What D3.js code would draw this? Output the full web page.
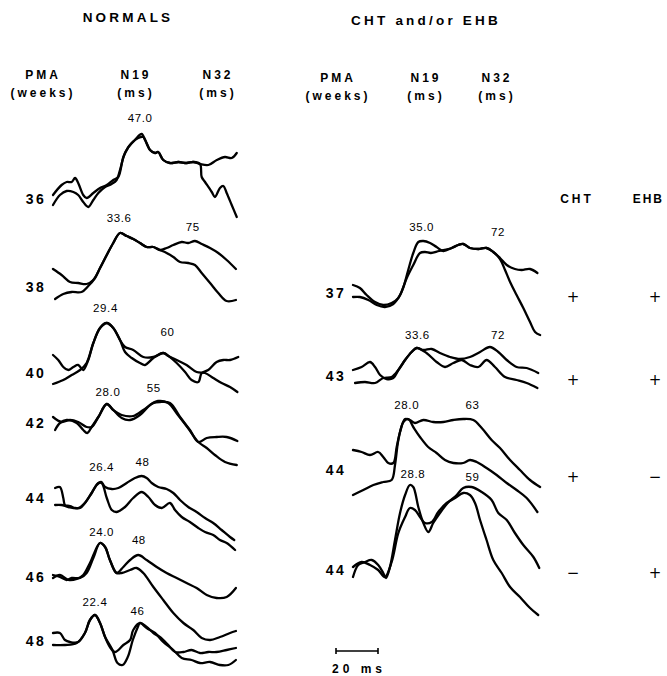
<!DOCTYPE html>
<html>
<head>
<meta charset="utf-8">
<script src="https://cdn.jsdelivr.net/npm/d3@7"></script>
<style>
  body { margin: 0; background: #fff; }
  svg { display: block; }
  .trace { fill: none; stroke: #000; stroke-width: 2.3; stroke-linejoin: round; stroke-linecap: round; }
  .title { font-family: "Liberation Sans", Arial, sans-serif; font-weight: bold; font-size: 13.5px; letter-spacing: 3.2px; }
  .head { font-family: "Liberation Sans", Arial, sans-serif; font-weight: bold; font-size: 12px; letter-spacing: 3px; }
  .rowlab { font-family: "Liberation Sans", Arial, sans-serif; font-weight: bold; font-size: 14px; letter-spacing: 2.5px; }
  .peak { font-family: "Liberation Sans", Arial, sans-serif; font-size: 11.5px; letter-spacing: 0.6px; }
  .sign { font-family: "DejaVu Sans", sans-serif; font-size: 15px; }
  .bar { font-family: "Liberation Sans", Arial, sans-serif; font-weight: bold; font-size: 12px; letter-spacing: 4px; }
</style>
</head>
<body>
<svg class="js-d3-container"></svg>
<script>
// ---- data: traces as [latency (ms), amplitude (arbitrary units)] ----
// NORMALS
const n36a = [[0,4],[4.1,14],[6.5,17],[8.9,17],[10.5,21],[12,16],[14.4,4],[16,1],[19.2,6],[22.4,11],[25.6,14],[28.7,19],[31.1,22],[33.5,42],[35.9,52],[39,59],[42.2,65],[43.8,59],[46.2,49],[48.6,46],[50.1,47],[52.5,39],[55.7,36],[59.7,37],[63.7,36],[66.8,37],[70,35],[74,34],[78,39],[81.9,42],[85.1,41],[87.5,46]];
const n36b = [[0,-6],[3.3,4],[6.5,8],[9.7,7],[12,4],[14.4,-3],[16.8,-8],[19.2,-1],[21.6,6],[24.8,12],[27.9,15],[30.3,19],[31.9,29],[34.3,46],[37.5,56],[40.6,61],[43,62],[44.6,56],[46.2,49],[48.6,46],[50.1,47],[52.5,39],[55.7,36],[59.7,37],[63.7,36],[66.8,37],[70,35],[70.8,22],[72.4,17],[75.6,7],[77.1,2],[79.5,11],[81.1,13],[82.7,6],[85.1,-6],[87.5,-18]];
const n38a = [[0,18],[4.1,12],[8.1,5],[12,4],[16,3],[19.2,7],[22.4,19],[25.6,32],[28.7,44],[31.9,54],[35.1,51],[38.2,48],[41.4,44],[44.6,40],[47.8,40],[50.9,37],[54.1,39],[57.3,42],[61.3,45],[64.4,44],[67.6,46],[70.8,43],[74.8,39],[78.7,34],[82.7,27],[87.1,18]];
const n38b = [[1,-12],[4.9,-7],[8.9,-5],[13.6,-5],[16.8,1],[20,9],[22.4,19],[25.6,32],[28.7,44],[31.9,54],[35.1,51],[38.2,48],[41.4,44],[44.6,40],[47.8,40],[50.9,37],[54.1,34],[57.3,30],[60.5,25],[64.4,24],[67.6,22],[70.8,14],[74.8,4],[78.7,-6],[82.7,-14],[87.1,-13]];
const n40a = [[0,18],[2.5,13],[4.9,6],[7.3,3],[9.7,6],[12,8],[14.4,3],[16.8,13],[19.2,30],[22.4,45],[25.6,50],[28.7,45],[31.9,33],[34.3,26],[38.2,23],[43,16],[47.8,16],[52.5,20],[55.7,16],[58.9,10],[62.9,1],[66,-7],[69.2,-9],[70.8,0],[73.9,3],[77.9,11],[81.1,13],[84.3,13],[88.2,16]];
const n40b = [[0,-11],[4.9,-7],[8.9,-2],[12.9,3],[16,10],[19.2,30],[22.4,45],[25.6,50],[28.7,45],[31.9,33],[34.3,21],[37.5,15],[41.4,10],[43.8,8],[47.8,15],[52.5,20],[54.9,17],[58.9,13],[63.6,8],[68.4,1],[72.4,0],[76.3,-5],[80.3,-10],[84.3,-14],[87.8,-19]];
const n42a = [[0,6],[4.1,1],[8.1,3],[12,1],[16,-4],[18.4,-4],[21.6,6],[25.6,19],[28.7,13],[32.7,8],[38.2,7],[43,13],[47.8,20],[50.9,21],[55.7,20],[60.5,6],[65.2,-7],[69.2,-19],[73.2,-15],[77.9,-14],[82.7,-14],[87.8,-18]];
const n42b = [[1,-7],[3.3,0],[6.5,3],[11.3,0],[14.4,-7],[16.3,-10],[18.4,-4],[21.6,6],[25.6,19],[28.7,13],[32.7,5],[36.7,3],[41.4,8],[46.2,18],[50,22],[54.8,20],[59.5,8],[64.3,-5],[69.2,-19],[73.2,-25],[77.1,-32],[81.9,-39],[87.5,-42]];
const n44a = [[1,10],[3.3,11],[4.9,0],[5.7,-7],[8.1,-8],[10.5,-10],[12.9,-10],[15.2,-5],[18.4,5],[20.8,13],[22.9,16],[24.8,11],[28,9],[31.1,10],[35.1,15],[39,20],[42.2,22],[44.6,20],[47,15],[50.1,11],[54.1,9],[57.3,5],[60.5,-2],[64.4,-9],[68.4,-14],[72.4,-20],[76.3,-25],[80.3,-32],[84.3,-39],[86.3,-42]];
const n44b = [[1,-7],[4.1,-7],[7.3,-9],[12,-10],[15.2,-5],[18.4,5],[21.6,15],[23.2,15],[25.6,0],[28,-12],[30.3,-14],[34.3,-9],[38.2,0],[42.2,6],[45.4,1],[48.6,-7],[51.8,-10],[55.7,-5],[58.1,-12],[61.3,-19],[65.2,-24],[69.2,-30],[72.4,-34],[76.3,-37],[79.5,-42],[82.7,-45],[86.7,-52]];
const n46a = [[0,2],[3.3,0],[6.5,-3],[8.9,-1],[12.9,-1],[16,4],[19.2,19],[22.4,34],[24.8,30],[27.1,17],[30.3,4],[33.5,10],[36.7,17],[40.6,22],[44.6,17],[49.4,10],[54.1,4],[58.9,-1],[63.6,-6],[68.4,-11],[73.2,-18],[77.9,-21],[82.7,-20],[87.1,-11]];
const n46b = [[0,-1],[3.3,2],[7.3,-3],[11.3,-2],[14.4,2],[17.6,14],[22.4,34],[24.8,30],[27.1,17],[30.3,4],[32.7,4],[36.7,7],[39.8,9],[43,4],[47.8,-10],[52.5,-23],[57.3,-36],[62.1,-46],[66.8,-53],[70.8,-61],[74.8,-63],[79.5,-60],[84.3,-56],[87.1,-54]];
const n48a = [[0,8],[3.3,8],[5.7,1],[8.1,-1],[12,-1],[15.2,8],[17.6,21],[20,26],[22.4,18],[24.8,4],[27.1,-6],[29.5,-11],[33.5,-4],[36.7,1],[38.2,11],[41.4,18],[44.6,14],[47.8,8],[50.9,4],[54.9,-4],[58.1,-11],[62.1,-11],[66,-9],[70,-12],[73.9,-11],[77.9,-11],[82.7,-9],[87.1,-7]];
const n48b = [[0,-4],[5.7,-4],[11.3,-2],[15.2,8],[17.6,21],[20,26],[22.4,18],[24.8,4],[28.3,-9],[30.7,-22],[33.1,-24],[35.6,-16],[38,1],[40.4,14],[41.4,18],[44.6,13],[48.6,8],[52.5,-1],[57.3,-9],[61.3,-17],[66,-19],[70,-22],[74.8,-21],[79.5,-24],[83.5,-24],[87.1,-19]];
// CHT and/or EHB
const c37a = [[0,8],[3.3,5],[6.5,-2],[10.5,-9],[14.4,-12],[18.4,-10],[21.6,-5],[24,6],[26.3,23],[28.7,40],[31.1,51],[33.5,52],[36.7,50],[39.8,46],[43,42],[47,45],[50.1,48],[52.5,49],[55.7,45],[59.7,44],[63.6,45],[66.8,41],[70,35],[73.2,28],[77.1,24],[80.3,23],[84.3,24],[87.8,20]];
const c37b = [[0,-4],[3.3,-4],[7.3,-7],[11.3,-12],[15.2,-14],[19.2,-11],[22.4,-2],[25.6,15],[28.7,28],[31.9,40],[34.3,41],[37.1,40],[41,42],[47,45],[50.1,48],[52.5,49],[55.7,45],[59.7,44],[63.6,45],[66.8,41],[70,34],[72.4,23],[74.8,11],[77.9,-2],[81.1,-15],[84.3,-29],[86.7,-39],[89.1,-42]];
const c43a = [[0,6],[4.1,9],[8.1,14],[10.5,9],[12.9,1],[16,-3],[19.2,-2],[21.6,6],[24.8,16],[27.9,24],[30.3,28],[33.5,26],[37.5,27],[41.4,23],[46.2,19],[50.9,17],[55.7,19],[60.5,24],[65.2,29],[69.2,24],[73.2,16],[77.9,9],[82.7,8],[88.2,3]];
const c43b = [[1,-7],[5.7,-6],[10.5,-7],[14.4,-2],[18.4,-1],[21.6,6],[24.8,16],[27.9,24],[30.3,28],[35,23],[39.8,14],[43.8,9],[47.8,13],[51.8,16],[55.7,11],[59.7,9],[63.6,16],[67.6,9],[72.4,-1],[77.9,-4],[82.7,-7],[87.8,-12]];
const c44a = [[0,20],[4.1,18],[8.1,15],[12,18],[14.4,13],[16.8,7],[19.2,7],[20.8,23],[22.4,38],[24.8,51],[27.1,50],[29.5,47],[33.5,50],[38.2,48],[43,48],[47.8,50],[52.5,51],[57.3,50],[61.3,42],[66,30],[70,22],[74.8,10],[79.5,0],[84.3,-10],[89.1,-17]];
const c44b = [[0,-25],[4.9,-20],[9.7,-15],[14.4,-12],[18.4,-10],[20,5],[21.6,30],[24,48],[26.3,51],[28.7,43],[31.9,33],[35.8,23],[39.8,17],[43.8,10],[47.8,7],[52.5,7],[55.7,10],[58.9,8],[63.6,2],[68.4,-5],[73.2,-13],[77.9,-20],[82.7,-28],[87.8,-42]];
const c44c = [[0,-7],[2.5,5],[5.7,8],[8.9,10],[12,5],[14.4,-3],[15.7,-8],[17.6,3],[20,30],[22.4,57],[24.8,75],[27.1,85],[28.7,83],[31.1,63],[33.5,47],[35.9,38],[38.2,47],[41.4,57],[45.1,67],[49.4,75],[52.5,82],[56.5,83],[61.3,78],[66,70],[69.2,57],[73.2,50],[77.1,37],[81.1,25],[85.9,13],[88.7,2]];
const c44d = [[0,3],[4.1,8],[8.1,5],[12,0],[15.2,-7],[18.4,8],[21.6,37],[24.8,53],[27.1,62],[29.5,60],[31.9,53],[34.3,47],[37.5,48],[40.6,58],[44.6,67],[48.6,72],[52.5,77],[55.7,75],[58.1,67],[60.5,50],[63.6,30],[66.8,10],[70.8,-3],[74.8,-17],[79.5,-27],[84.3,-38],[88.2,-45]];

const normalAges = ["36", "38", "40", "42", "44", "46", "48"];
const normalTraces = [[n36a, n36b], [n38a, n38b], [n40a, n40b], [n42a, n42b], [n44a, n44b], [n46a, n46b], [n48a, n48b]];
const normalN19 = ["47.0", "33.6", "29.4", "28.0", "26.4", "24.0", "22.4"];
const normalN32 = ["", "75", "60", "55", "48", "48", "46"];

const patientAges = ["37", "43", "44", "44"];
const patientTraces = [[c37a, c37b], [c43a, c43b], [c44a, c44b], [c44c, c44d]];
const patientN19 = ["35.0", "33.6", "28.0", "28.8"];
const patientN32 = ["72", "72", "63", "59"];
const chtSigns = ["+", "+", "+", "\u2212"];
const ehbSigns = ["+", "+", "\u2212", "+"];

const drawFigure = () => {
    const svgWidth = 667;
    const svgHeight = 676;

    const svg = d3.select('.js-d3-container')
        .attr('width', svgWidth)
        .attr('height', svgHeight);

    // time scales (2.1 px per ms, same as the 20 ms bar)
    const xLeft = d3.scaleLinear().domain([0, 88]).range([53, 53 + 88 * 2.1]);
    const xRight = d3.scaleLinear().domain([0, 89]).range([353, 353 + 89 * 2.1]);

    // baseline of each row (row label centre)
    const leftBase = [199, 287, 373, 423, 498, 577, 641];
    const rightBase = [293, 376, 470, 570];

    // label positions for peak numbers (x in ms, y offset from baseline)
    const leftN19Pos = [[41.5, -81], [31.5, -69], [25, -65], [26.2, -31], [23.2, -31], [23.2, -45], [20, -39]];
    const leftN32Pos = [[66, 0], [66.5, -60], [54.5, -41], [48, -35], [42.6, -36], [40.9, -37], [40.2, -30]];
    const rightN19Pos = [[32.7, -66], [30.7, -41], [25.6, -65], [28.5, -96]];
    const rightN32Pos = [[69, -61], [69, -41], [56.9, -65], [56.9, -93]];

    const drawPanel = (x, ages, traces, n19, n32, bases, n19Pos, n32Pos, labelX) => {
        traces.forEach((pair, i) => {
            const y = d3.scaleLinear().domain([0, 10]).range([bases[i], bases[i] - 10]);
            const line = d3.line()
                .x(d => x(d[0]))
                .y(d => y(d[1]))
                .curve(d3.curveCatmullRom.alpha(0.5));
            pair.forEach(tr => {
                svg.append('path')
                    .attr('class', 'trace')
                    .attr('d', line(tr));
            });

            svg.append('text')
                .attr('class', 'rowlab')
                .attr('x', labelX)
                .attr('y', bases[i])
                .attr('dy', '0.36em')
                .attr('text-anchor', 'middle')
                .text(ages[i]);

            svg.append('text')
                .attr('class', 'peak')
                .attr('x', x(n19Pos[i][0]))
                .attr('y', y(-n19Pos[i][1]))
                .attr('dy', '0.36em')
                .attr('text-anchor', 'middle')
                .text(n19[i]);

            if (n32[i]) {
                svg.append('text')
                    .attr('class', 'peak')
                    .attr('x', x(n32Pos[i][0]))
                    .attr('y', y(-n32Pos[i][1]))
                    .attr('dy', '0.36em')
                    .attr('text-anchor', 'middle')
                    .text(n32[i]);
            }
        });
    };

    drawPanel(xLeft, normalAges, normalTraces, normalN19, normalN32, leftBase, leftN19Pos, leftN32Pos, 36);
    drawPanel(xRight, patientAges, patientTraces, patientN19, patientN32, rightBase, rightN19Pos, rightN32Pos, 336);

    // Titles
    svg.append('text').attr('class', 'title')
        .attr('x', 128).attr('y', 17).attr('dy', '0.36em')
        .attr('text-anchor', 'middle').text('NORMALS');
    svg.append('text').attr('class', 'title')
        .attr('x', 426).attr('y', 20).attr('dy', '0.36em')
        .attr('text-anchor', 'middle').text('CHT and/or EHB');

    // Column headings
    const heads = [
        ['PMA', 43, 75], ['(weeks)', 43, 93],
        ['N19', 136, 75], ['(ms)', 136, 93],
        ['N32', 218, 75], ['(ms)', 218, 93],
        ['PMA', 338, 78], ['(weeks)', 338, 96],
        ['N19', 426, 78], ['(ms)', 426, 96],
        ['N32', 497, 78], ['(ms)', 497, 96],
        ['CHT', 577, 199]
    ];
    svg.selectAll('text.head')
        .data(heads)
        .enter().append('text')
        .attr('class', 'head')
        .attr('x', d => d[1])
        .attr('y', d => d[2])
        .attr('dy', '0.36em')
        .attr('text-anchor', 'middle')
        .text(d => d[0]);

    // EHB sits right at the edge: anchor its end inside the frame
    svg.append('text')
        .attr('class', 'head')
        .style('letter-spacing', '2px')
        .attr('x', 664)
        .attr('y', 199)
        .attr('dy', '0.36em')
        .attr('text-anchor', 'end')
        .text('EHB');

    // CHT / EHB signs
    const signY = [297, 380, 477, 573];
    chtSigns.forEach((s, i) => {
        svg.append('text').attr('class', 'sign')
            .attr('x', 573).attr('y', signY[i]).attr('dy', '0.36em')
            .attr('text-anchor', 'middle').text(s);
        svg.append('text').attr('class', 'sign')
            .attr('x', 655).attr('y', signY[i]).attr('dy', '0.36em')
            .attr('text-anchor', 'middle').text(ehbSigns[i]);
    });

    // 20 ms scale bar
    const barX0 = 336;
    const barLen = xRight(20) - xRight(0);
    const bar = svg.append('g').attr('stroke', '#000').attr('stroke-width', 1.6);
    bar.append('line').attr('x1', barX0).attr('x2', barX0 + barLen).attr('y1', 651).attr('y2', 651);
    bar.append('line').attr('x1', barX0).attr('x2', barX0).attr('y1', 648).attr('y2', 654);
    bar.append('line').attr('x1', barX0 + barLen).attr('x2', barX0 + barLen).attr('y1', 648).attr('y2', 654);
    svg.append('text')
        .attr('class', 'bar')
        .attr('x', barX0 + barLen / 2 + 2)
        .attr('y', 669)
        .attr('dy', '0.36em')
        .attr('text-anchor', 'middle')
        .text('20 ms');
};

drawFigure();
</script>
</body>
</html>
